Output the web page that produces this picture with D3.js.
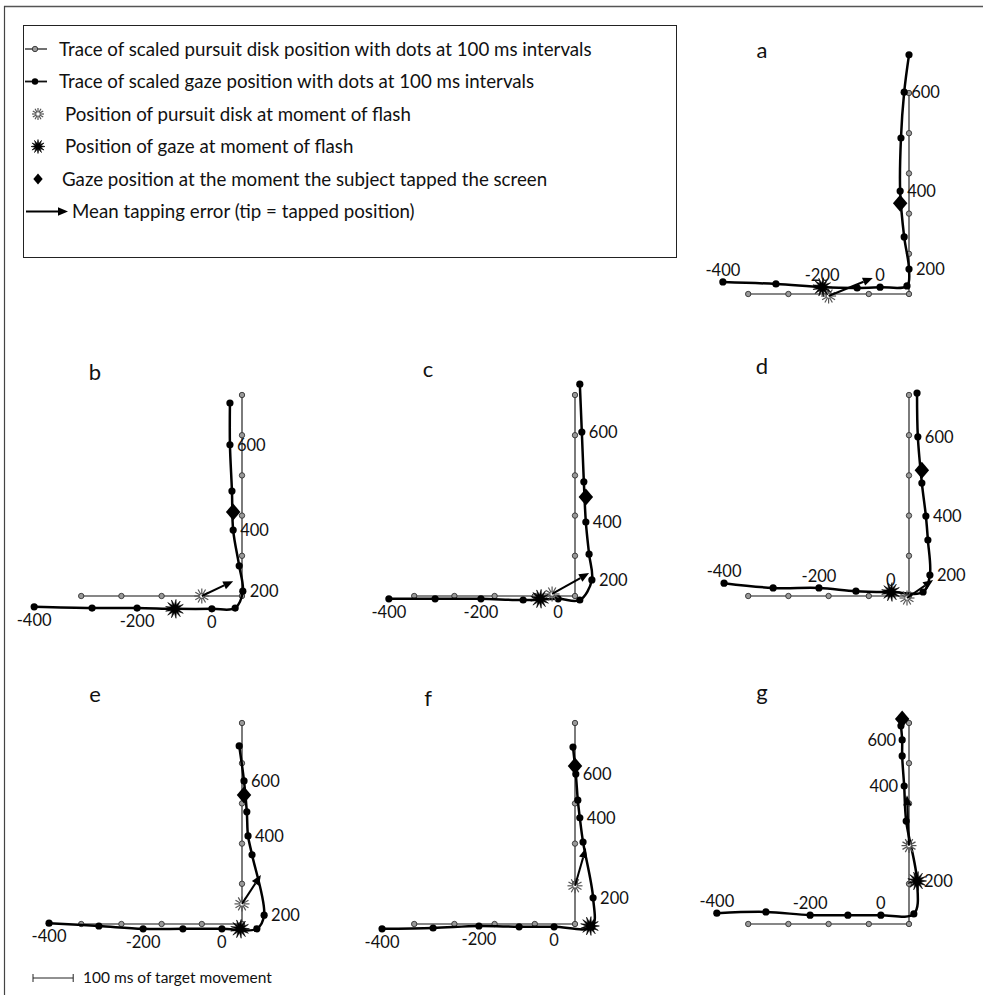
<!DOCTYPE html>
<html><head><meta charset="utf-8">
<script src="https://cdn.jsdelivr.net/npm/d3@7"></script>
<style>
html,body{margin:0;padding:0;background:#fff;}
svg{display:block;}
text{font-family:Lato,"Open Sans",sans-serif;fill:#111;}
</style></head><body>
<svg id="fig" width="983" height="995"></svg>
<script>
// Panels and sample times (ms). Positions are in "ms of target movement" units,
// measured from the corner of the pursuit path, y pointing up.
const panelNames = ["a", "b", "c", "d", "e", "f", "g"];
const gazeTimes = [-400, -300, -200, -100, 0, 100, 200, 300, 400, 500, 600, 700];
const timeLabels = [-400, -200, 0, 200, 400, 600];

// Pursuit disk samples (100 ms apart): leftward leg, then the upward leg
const pursuitX = [-400, -300, -200, -100, 0, 0, 0, 0, 0, 0];
const pursuitY = [0, 0, 0, 0, 0, 100, 200, 300, 400, 500];

// Gaze samples per panel, one row per panel (a..g)
const gazeX = [
  [-463, -331, -216, -129, -72, -5, 0, -12, -22, -20, -12, 0],
  [-517, -373, -261, -167, -75, -17, 2, -7, -22, -25, -30, -30],
  [-463, -348, -234, -129, -42, 12, 42, 35, 27, 22, 17, 12],
  [-460, -338, -224, -132, -45, 35, 52, 47, 42, 32, 22, 20],
  [-480, -356, -246, -147, -50, 37, 55, 25, 15, 12, 5, -7],
  [-480, -353, -239, -139, -52, 42, 45, 20, 12, 7, 2, -5],
  [-478, -356, -246, -152, -70, 12, 20, -7, -12, -17, -17, -20]
];
const gazeY = [
  [30, 25, 17, 15, 17, 20, 62, 142, 256, 388, 502, 595],
  [-27, -30, -30, -32, -32, -30, 12, 75, 164, 261, 376, 480],
  [-7, -7, -7, -10, -7, -10, 40, 104, 184, 284, 408, 527],
  [32, 20, 20, 12, 10, 10, 52, 139, 199, 281, 396, 505],
  [2, -5, -12, -12, -12, -12, 22, 172, 219, 279, 356, 443],
  [-12, -10, -5, -7, -7, -7, 65, 204, 264, 308, 373, 440],
  [27, 30, 22, 22, 22, 25, 107, 256, 343, 418, 458, 493]
];

// Pursuit disk at the flash
const diskFlashX = [-200, -100, -57, -5, 0, 0, 0];
const diskFlashY = [-5, 0, 5, -5, 50, 95, 195];
// Gaze at the flash
const gazeFlashX = [-216, -167, -87, -45, -5, 37, 20];
const gazeFlashY = [17, -32, -7, 10, -12, -5, 107];
// Gaze when the screen was tapped
const tapX = [-22, -22, 27, 32, 5, 0, -17];
const tapY = [226, 209, 246, 313, 321, 393, 510];
// Mean tapped position (tip of the error arrow)
const tipX = [-90, -22, 35, 60, 47, 27, -5];
const tipY = [40, 37, 57, 40, 122, 189, 320];

const legendItems = [
  "Trace of scaled pursuit disk position with dots at 100 ms intervals",
  "Trace of scaled gaze position with dots at 100 ms intervals",
  "Position of pursuit disk at moment of flash",
  "Position of gaze at moment of flash",
  "Gaze position at the moment the subject tapped the screen",
  "Mean tapping error (tip = tapped position)"
];

// ---- layout ----
const pxPer100 = 40.2;               // 100 ms of target movement on screen
const colX = [242, 575, 909];
const rowY = [294, 596, 924];
const panelCell = [[2, 0], [0, 1], [1, 1], [2, 1], [0, 2], [1, 2], [2, 2]];
const letterDy = [-236, -216, -219, -222, -222, -218, -224];
const hLabelAbove = [true, false, false, true, false, false, true];

const svg = d3.select("#fig");

// frame
svg.append("line").attr("x1", 4).attr("x2", 983).attr("y1", 6.5).attr("y2", 6.5)
  .attr("stroke", "#555").attr("stroke-width", 1.4);
svg.append("line").attr("x1", 4.5).attr("x2", 4.5).attr("y1", 6).attr("y2", 995)
  .attr("stroke", "#444").attr("stroke-width", 1.2);

// marker helpers
function burst(g, cx, cy, rOut, rIn, n, fill) {
  const pts = [];
  for (let i = 0; i < n * 2; i++) {
    const r = i % 2 ? rIn : rOut;
    const a = Math.PI * i / n;
    pts.push([cx + r * Math.cos(a), cy + r * Math.sin(a)]);
  }
  g.append("path").attr("d", "M" + pts.map(p => p.join(",")).join("L") + "Z")
    .attr("fill", fill).attr("stroke", fill).attr("stroke-width", 0.6);
}
function greyBurst(g, cx, cy, r) {
  const n = 12;
  for (let i = 0; i < n; i++) {
    const a = Math.PI * 2 * i / n;
    g.append("line").attr("x1", cx).attr("y1", cy)
      .attr("x2", cx + r * Math.cos(a)).attr("y2", cy + r * Math.sin(a))
      .attr("stroke", "#555").attr("stroke-width", 1.2);
  }
  g.append("circle").attr("cx", cx).attr("cy", cy).attr("r", 2.2).attr("fill", "#fff").attr("stroke", "#555").attr("stroke-width", 0.8);
}
function diamond(g, cx, cy, r) {
  g.append("path").attr("d", `M${cx},${cy - r}L${cx + r * 0.85},${cy}L${cx},${cy + r}L${cx - r * 0.85},${cy}Z`)
    .attr("fill", "#000");
}
function arrow(g, x1, y1, x2, y2) {
  const a = Math.atan2(y2 - y1, x2 - x1), L = 10, W = 4.2;
  const bx = x2 - L * Math.cos(a), by = y2 - L * Math.sin(a);
  g.append("line").attr("x1", x1).attr("y1", y1).attr("x2", bx).attr("y2", by)
    .attr("stroke", "#000").attr("stroke-width", 2);
  g.append("path").attr("d",
    `M${x2},${y2}L${bx - W * Math.sin(a)},${by + W * Math.cos(a)}L${bx + W * Math.sin(a)},${by - W * Math.cos(a)}Z`)
    .attr("fill", "#000");
}
function pursuitDot(g, cx, cy) {
  g.append("circle").attr("cx", cx).attr("cy", cy).attr("r", 2.7)
    .attr("fill", "#999").attr("stroke", "#333").attr("stroke-width", 0.9);
}

// ---- legend ----
const leg = svg.append("g");
leg.append("rect").attr("x", 23.5).attr("y", 25.5).attr("width", 653).attr("height", 232)
  .attr("fill", "none").attr("stroke", "#222").attr("stroke-width", 1);
const legRowY = [49, 81.5, 114, 146.5, 179, 211.5];
const legTextX = [59, 59, 65, 65, 62, 72];
legendItems.forEach((t, i) => {
  const y = legRowY[i];
  if (i === 0) {
    leg.append("line").attr("x1", 25).attr("x2", 47).attr("y1", y).attr("y2", y).attr("stroke", "#111").attr("stroke-width", 1.2);
    pursuitDot(leg, 35, y);
  } else if (i === 1) {
    leg.append("line").attr("x1", 25).attr("x2", 47).attr("y1", y).attr("y2", y).attr("stroke", "#111").attr("stroke-width", 1.8);
    leg.append("circle").attr("cx", 35).attr("cy", y).attr("r", 3.2).attr("fill", "#000");
  } else if (i === 2) {
    greyBurst(leg, 38, y, 6);
  } else if (i === 3) {
    burst(leg, 38, y, 7, 3, 12, "#000");
  } else if (i === 4) {
    diamond(leg, 38, y, 5.5);
  } else {
    arrow(leg, 26, y, 68, y);
  }
  leg.append("text").attr("x", legTextX[i]).attr("y", y).attr("dy", "0.35em")
    .attr("font-size", 18.7).text(t);
});

// ---- panels ----
const line = d3.line().curve(d3.curveCatmullRom.alpha(0.5));

panelNames.forEach((name, p) => {
  const cx = colX[panelCell[p][0]], cy = rowY[panelCell[p][1]];
  const x = d3.scaleLinear().domain([0, 100]).range([cx, cx + pxPer100]);
  const y = d3.scaleLinear().domain([0, 100]).range([cy, cy - pxPer100]);
  const g = svg.append("g");

  g.append("text").attr("x", cx - 147).attr("y", cy + letterDy[p])
    .attr("text-anchor", "middle").attr("font-size", 22).text(name);

  // pursuit disk trace
  const pPts = pursuitX.map((v, i) => [x(v), y(pursuitY[i])]);
  g.append("path").attr("d", d3.line()(pPts)).attr("fill", "none")
    .attr("stroke", "#111").attr("stroke-width", 1.1);
  pPts.forEach(pt => pursuitDot(g, pt[0], pt[1]));

  // gaze trace
  const gPts = gazeX[p].map((v, i) => [x(v), y(gazeY[p][i])]);
  g.append("path").attr("d", line(gPts)).attr("fill", "none")
    .attr("stroke", "#000").attr("stroke-width", 2.5).attr("stroke-linejoin", "round");
  gPts.forEach(pt => g.append("circle").attr("cx", pt[0]).attr("cy", pt[1]).attr("r", 3.6).attr("fill", "#000"));

  // flash markers, tap position, tapping error
  greyBurst(g, x(diskFlashX[p]), y(diskFlashY[p]), 7.5);
  burst(g, x(gazeFlashX[p]), y(gazeFlashY[p]), 9.5, 4, 13, "#000");
  diamond(g, x(tapX[p]), y(tapY[p]), 8.5);
  arrow(g, x(diskFlashX[p]), y(diskFlashY[p]), x(tipX[p]), y(tipY[p]));

  // time labels next to the gaze samples
  timeLabels.forEach(t => {
    const i = gazeTimes.indexOf(t);
    const px = gPts[i][0], py = gPts[i][1];
    const lab = g.append("text").attr("font-size", 16.5).text(t);
    if (t <= 0) {
      lab.attr("x", px).attr("text-anchor", "middle")
        .attr("y", hLabelAbove[p] ? py - 6 : py + 19);
    } else if (p === 6 && t >= 400) {
      lab.attr("x", px - 6).attr("text-anchor", "end").attr("y", py).attr("dy", "0.35em");
    } else {
      lab.attr("x", px + 7).attr("y", py).attr("dy", "0.35em");
    }
  });
});

// scale bar
const sb = svg.append("g");
const sbScale = d3.scaleLinear().domain([0, 100]).range([33, 33 + pxPer100]);
sb.append("line").attr("x1", sbScale(0)).attr("x2", sbScale(100)).attr("y1", 978).attr("y2", 978).attr("stroke", "#222").attr("stroke-width", 1);
[0, 100].forEach(v => sb.append("line").attr("x1", sbScale(v)).attr("x2", sbScale(v)).attr("y1", 974).attr("y2", 982).attr("stroke", "#222").attr("stroke-width", 1));
sb.append("text").attr("x", 83).attr("y", 978).attr("dy", "0.35em").attr("font-size", 15.5).text("100 ms of target movement");
</script>
</body></html>
